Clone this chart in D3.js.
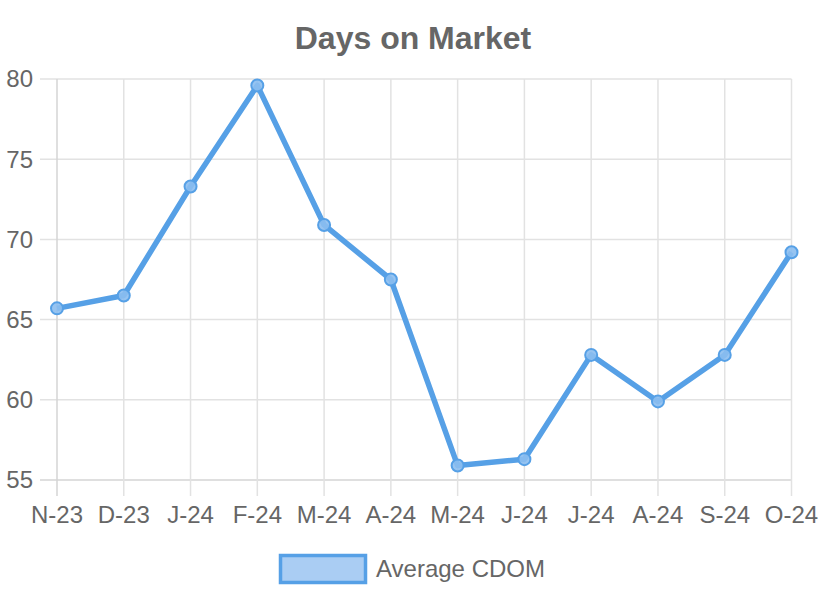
<!DOCTYPE html>
<html><head><meta charset="utf-8">
<script src="https://cdn.jsdelivr.net/npm/d3@7"></script>
<style>body{margin:0;background:#fff}svg{display:block}text{font-family:"Liberation Sans",Arial,sans-serif}</style>
</head><body><svg id="c" width="824" height="602"></svg>
<script>
const categories = ["N-23","D-23","J-24","F-24","M-24","A-24","M-24","J-24","J-24","A-24","S-24","O-24"];
const values = [65.7,66.5,73.3,79.6,70.9,67.5,55.9,56.3,62.8,59.9,62.8,69.2];
const yTicks = [55,60,65,70,75,80];
const title = "Days on Market";
const seriesName = "Average CDOM";

(function () {
const svg = d3.select("#c");
const pL = 57, pR = 791.5, pT = 79, pB = 480;
const x = d3.scalePoint().domain(d3.range(categories.length)).range([pL, pR]);
const y = d3.scaleLinear().domain([55, 80]).range([pB, pT]);
const grid = "#e2e2e2", txt = "#666";
const lineColor = "rgb(86,160,230)";

// horizontal grid
svg.append("g").selectAll("line").data(yTicks).join("line")
  .attr("x1", pL - 17).attr("x2", pR).attr("y1", d => y(d)).attr("y2", d => y(d))
  .attr("stroke", d => d === 55 ? "#d4d4d4" : grid).attr("stroke-width", 1.5);
// vertical grid
svg.append("g").selectAll("line").data(d3.range(categories.length)).join("line")
  .attr("x1", d => x(d)).attr("x2", d => x(d)).attr("y1", pT).attr("y2", pB + 16)
  .attr("stroke", d => d === 0 ? "#d4d4d4" : grid).attr("stroke-width", 1.5);

// y labels
svg.append("g").selectAll("text").data(yTicks).join("text")
  .attr("x", 33).attr("y", d => y(d)).attr("dy", "0.35em").attr("text-anchor", "end")
  .attr("font-size", 24).attr("fill", txt).text(d => d);
// x labels
svg.append("g").selectAll("text").data(categories).join("text")
  .attr("x", (d, i) => x(i)).attr("y", 523).attr("text-anchor", "middle")
  .attr("font-size", 24).attr("fill", txt).text(d => d);

// title
svg.append("text").attr("x", 413).attr("y", 49).attr("text-anchor", "middle")
  .attr("font-size", 32).attr("font-weight", "bold").attr("fill", txt).text(title);

// line
const line = d3.line().x((d, i) => x(i)).y(d => y(d));
svg.append("path").datum(values).attr("d", line).attr("fill", "none")
  .attr("stroke", lineColor).attr("stroke-width", 5.5).attr("stroke-linejoin", "round");
svg.append("g").selectAll("circle").data(values).join("circle")
  .attr("cx", (d, i) => x(i)).attr("cy", d => y(d)).attr("r", 6)
  .attr("fill", "rgba(140,190,240,0.9)").attr("stroke", lineColor).attr("stroke-width", 2);

// legend
svg.append("rect").attr("x", 280.5).attr("y", 555.5).attr("width", 85).attr("height", 27)
  .attr("fill", "rgb(170,205,243)").attr("stroke", lineColor).attr("stroke-width", 3.5);
svg.append("text").attr("x", 376).attr("y", 577).attr("font-size", 24).attr("fill", txt).text(seriesName);
})();
</script></body></html>
